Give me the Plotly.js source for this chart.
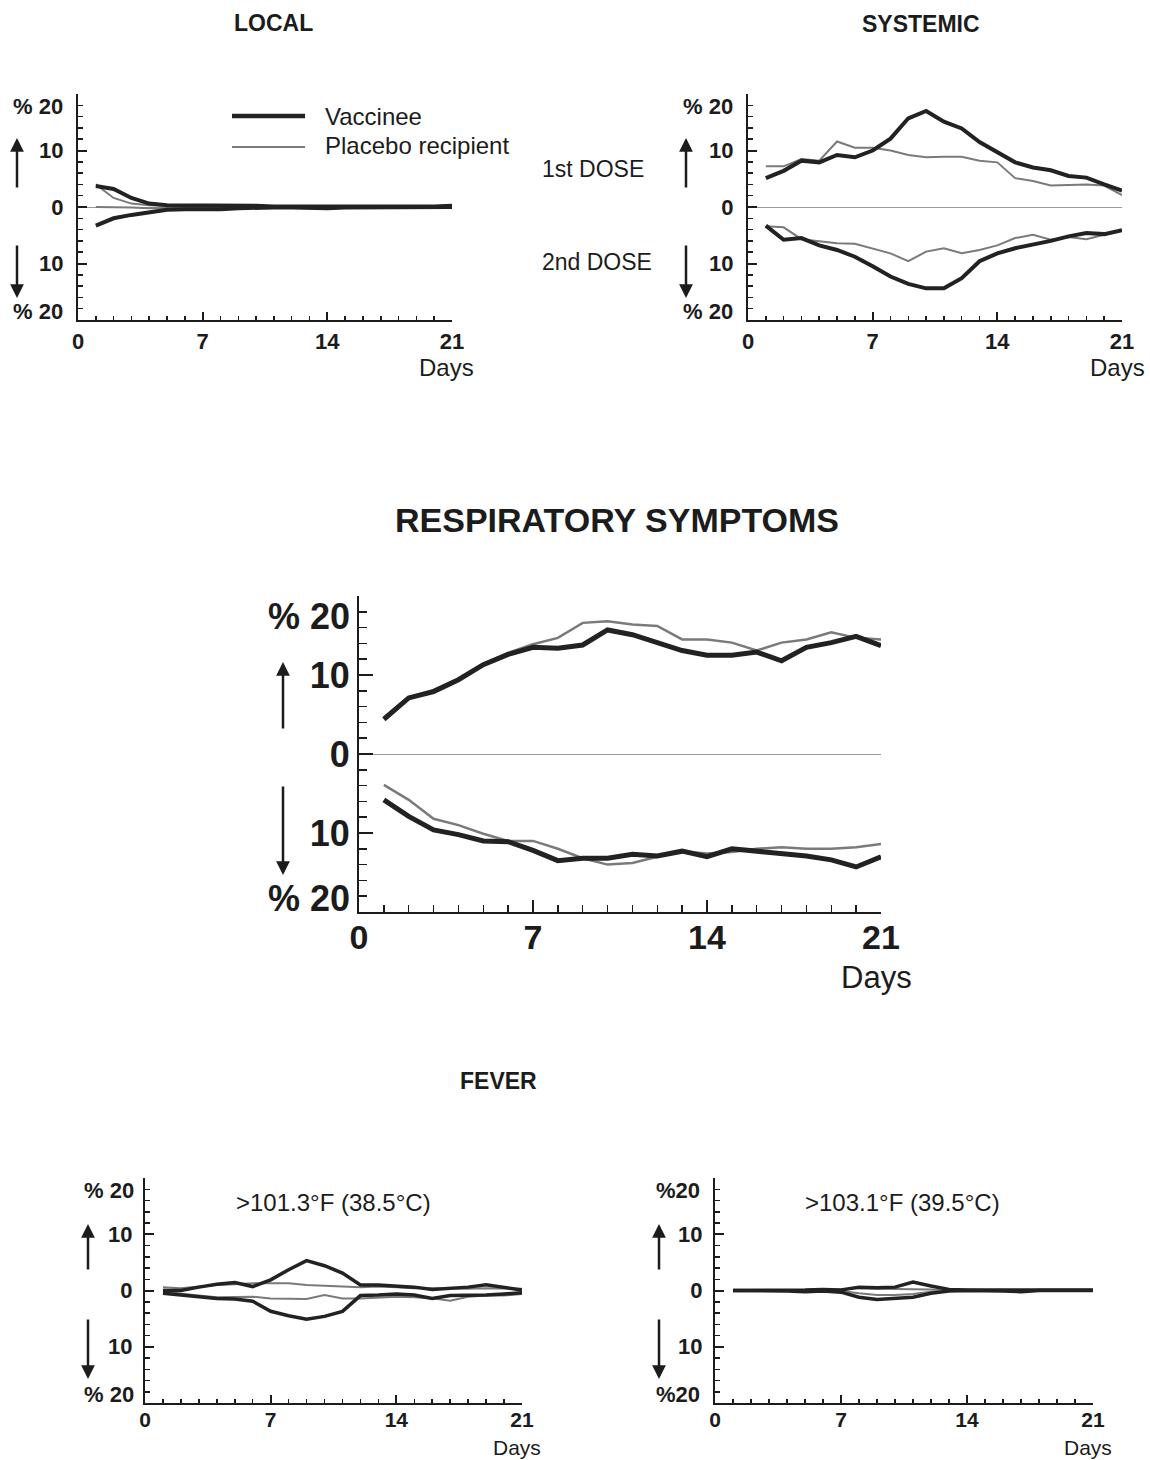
<!DOCTYPE html>
<html>
<head>
<meta charset="utf-8">
<script src="https://cdn.plot.ly/plotly-3.0.1.min.js"></script>
<style>html,body{margin:0;padding:0;background:#fff}#chart{width:1150px;height:1460px}</style>
</head>
<body>
<div id="chart"></div>
<script>
// ---------- DATA ----------
const days = [1,2,3,4,5,6,7,8,9,10,11,12,13,14,15,16,17,18,19,20,21];
const xTickVals = [0,7,14,21];
const xTickText = ['0','7','14','21'];
const yTickVals = [-20,-10,0,10,20];
const yTickText = ['','10','0','10',''];

// LOCAL reactions (% of subjects; positive = 1st dose, negative = 2nd dose)
const localVacUp   = [3.7,3.2,1.6,0.6,0.3,0.3,0.2,0.3,0.3,0.2,0.1,0.1,0,0,0,0,0,0,0,0.1,0.2];
const localPlaUp   = [4.0,1.6,0.6,0.3,0.2,0.2,0.2,0.2,0.2,0.1,0.1,0,0,0,0,0,0,0,0,0.1,0.1];
const localVacDown = [-3.3,-2.0,-1.4,-0.9,-0.5,-0.4,-0.4,-0.4,-0.2,-0.1,-0.1,-0.1,-0.2,-0.2,-0.1,-0.1,-0.1,-0.1,-0.1,-0.1,0];
const localPlaDown = [0,0,-0.1,-0.2,-0.2,-0.2,-0.3,-0.3,-0.2,-0.1,-0.1,-0.1,-0.1,-0.1,-0.1,-0.1,0,0,0,0,0];

// SYSTEMIC reactions
const sysVacUp   = [5.1,6.4,8.2,7.9,9.2,8.8,10.0,12.1,15.7,17.0,15.1,13.9,11.5,9.8,7.9,7.0,6.5,5.5,5.2,4.0,2.9];
const sysPlaUp   = [7.2,7.2,8.5,8.2,11.6,10.5,10.5,10.0,9.2,8.8,8.9,8.9,8.2,7.9,5.1,4.6,3.8,3.9,4.0,3.8,2.1];
const sysVacDown = [-3.3,-5.8,-5.5,-6.8,-7.6,-8.8,-10.5,-12.3,-13.6,-14.4,-14.4,-12.6,-9.6,-8.2,-7.3,-6.7,-6.0,-5.2,-4.6,-4.8,-4.1];
const sysPlaDown = [-3.4,-3.6,-5.7,-6.1,-6.4,-6.5,-7.3,-8.2,-9.6,-7.9,-7.3,-8.2,-7.6,-6.8,-5.5,-4.9,-5.8,-5.3,-5.7,-4.9,-4.1];

// RESPIRATORY symptoms
const respVacUp   = [4.4,7.1,7.9,9.4,11.3,12.6,13.5,13.4,13.8,15.7,15.1,14.1,13.1,12.5,12.5,12.9,11.8,13.5,14.1,14.9,13.7];
const respPlaUp   = [4.6,7.2,8.1,9.5,11.4,12.8,13.9,14.7,16.6,16.8,16.4,16.2,14.5,14.5,14.1,13.1,14.1,14.5,15.4,14.7,14.5];
const respVacDown = [-5.8,-7.9,-9.6,-10.2,-11.0,-11.1,-12.2,-13.5,-13.2,-13.2,-12.7,-12.9,-12.3,-13.0,-12.0,-12.3,-12.6,-12.9,-13.4,-14.3,-13.0];
const respPlaDown = [-3.9,-5.8,-8.2,-9.0,-10.1,-11.0,-11.0,-12.0,-13.2,-14.0,-13.8,-13.0,-12.3,-12.6,-12.4,-12.0,-11.8,-12.0,-12.0,-11.8,-11.4];

// FEVER > 101.3°F (38.5°C)
const fev1VacUp   = [0,0,0.6,1.1,1.4,0.7,1.9,3.7,5.3,4.4,3.1,1.0,1.0,0.8,0.6,0.2,0.4,0.6,1.0,0.6,0.1];
const fev1PlaUp   = [0.6,0.4,0.7,1.0,1.1,1.3,1.3,1.3,1.0,0.8,0.7,0.6,0.7,0.6,0.4,0.4,0.3,0.3,0.4,0.4,0.3];
const fev1VacDown = [-0.5,-0.8,-1.1,-1.4,-1.5,-1.9,-3.7,-4.5,-5.1,-4.6,-3.7,-0.9,-0.8,-0.6,-0.8,-1.4,-0.9,-0.9,-0.8,-0.6,-0.4];
const fev1PlaDown = [-0.2,-0.6,-0.9,-1.2,-1.1,-1.1,-1.4,-1.4,-1.5,-0.8,-1.4,-1.4,-1.2,-1.1,-1.2,-1.4,-1.8,-1.1,-0.9,-0.9,-0.6];

// FEVER > 103.1°F (39.5°C)
const fev2VacUp   = [0,0,0,0,0.1,0.2,0.1,0.6,0.5,0.6,1.5,0.8,0.2,0.1,0.1,0,0,0,0,0,0.1];
const fev2PlaUp   = [0,0,0,0,0.1,0.1,0.2,0.4,0.3,0.3,0.3,0.2,0.1,0,0,0,0,0,0,0,0];
const fev2VacDown = [0,0,0,-0.1,-0.2,-0.1,-0.3,-1.2,-1.6,-1.4,-1.2,-0.5,-0.1,0,0,-0.1,-0.2,0,0,0,0];
const fev2PlaDown = [0,0,0,0,0,0,-0.1,-0.5,-0.8,-0.8,-0.6,-0.2,0,0,0,0,0,0,0,0,0];

// ---------- STYLE / LAYOUT ----------
const W = 1150, H = 1460;
const FONT = 'Liberation Sans, Arial, Helvetica, sans-serif';
const INK = '#1c1c1c';
const VAC_COLOR = '#222222', PLA_COLOR = '#7a7a7a';
const px = v => v / W;
const py = v => 1 - v / H;

// box: [left, right, top(+20), bottom(-20)] in pixels
const panels = [
  {id:'', box:[78,452,94,320], xfs:22, yfs:22, dfs:24, xstand:1, ystand:8, pgap:13, daysY:367, vw:4, pw:2, zero:true, data:[localPlaUp,localPlaDown,localVacUp,localVacDown], pct:'% 20'},
  {id:'2', box:[748,1122,94,320], xfs:22, yfs:22, dfs:24, xstand:1, ystand:8, pgap:13, daysY:367, vw:4, pw:2, zero:true, data:[sysPlaUp,sysPlaDown,sysVacUp,sysVacDown], pct:'% 20'},
  {id:'3', box:[359,881,596,912], xfs:34, yfs:36, dfs:31, xstand:-6, ystand:0, pgap:7, daysY:977, vw:5, pw:2.5, zero:true, data:[respPlaUp,respPlaDown,respVacUp,respVacDown], pct:'% 20'},
  {id:'4', box:[145,522,1178,1403], xfs:21, yfs:22, dfs:21, xstand:-3, ystand:6, pgap:9, daysY:1447, vw:3.5, pw:2, zero:false, data:[fev1PlaUp,fev1PlaDown,fev1VacUp,fev1VacDown], pct:'% 20'},
  {id:'5', box:[715,1093,1178,1403], xfs:21, yfs:22, dfs:21, xstand:-3, ystand:6, pgap:13, daysY:1447, vw:3.5, pw:2, zero:false, data:[fev2PlaUp,fev2PlaDown,fev2VacUp,fev2VacDown], pct:'%20'}
];

const traces = [];
const layout = {
  width: W, height: H,
  margin: {l:0, r:0, t:0, b:0},
  paper_bgcolor: '#fff', plot_bgcolor: 'rgba(0,0,0,0)',
  showlegend: false,
  font: {family: FONT, color: INK},
  annotations: [], shapes: []
};

panels.forEach(p => {
  const [l, r, t, b] = p.box;
  const xa = 'x' + p.id, ya = 'y' + p.id;
  p.data.forEach((arr, i) => {
    const isVac = i >= 2;
    traces.push({
      type: 'scatter', mode: 'lines', x: days, y: arr,
      xaxis: xa, yaxis: ya, hoverinfo: 'skip',
      line: {color: isVac ? VAC_COLOR : PLA_COLOR, width: isVac ? p.vw : p.pw, shape: 'linear'}
    });
  });
  const small = p.xfs < 30;
  layout['xaxis' + p.id] = {
    domain: [px(l), px(r)], anchor: ya, range: [0, 21], fixedrange: true,
    showline: true, linecolor: INK, linewidth: 2, showgrid: false, zeroline: false,
    ticks: 'inside', ticklen: small ? 8 : 12, tickwidth: 2, tickcolor: INK,
    tickvals: xTickVals, ticktext: xTickText,
    tickfont: {family: FONT, size: p.xfs, color: INK, weight: 700},
    ticklabelstandoff: p.xstand,
    minor: {dtick: 1, tick0: 0, ticks: 'inside', ticklen: small ? 4 : 7, tickwidth: 1.5, tickcolor: INK, showgrid: false}
  };
  layout['yaxis' + p.id] = {
    domain: [py(b), py(t)], anchor: xa, range: [-20, 20], fixedrange: true,
    showline: true, linecolor: INK, linewidth: 2, showgrid: false,
    zeroline: p.zero, zerolinecolor: '#9a9a9a', zerolinewidth: 1,
    ticks: 'inside', ticklen: small ? 9 : 14, tickwidth: 2, tickcolor: INK,
    tickvals: yTickVals, ticktext: yTickText,
    tickfont: {family: FONT, size: p.yfs, color: INK, weight: 700},
    ticklabelstandoff: p.ystand,
    minor: {dtick: 2, tick0: 0, ticks: 'inside', ticklen: small ? 5 : 8, tickwidth: 1.5, tickcolor: INK, showgrid: false}
  };
  // "% 20" end labels
  [[20, 'top'], [-20, 'bottom']].forEach(([v, anc]) => {
    layout.annotations.push({
      xref: xa + ' domain', yref: ya, x: 0, y: v, xanchor: 'right', yanchor: anc,
      xshift: -p.pgap, yshift: anc === 'top' ? 2 : -Math.round(p.yfs * 0.25),
      text: p.pct, showarrow: false,
      font: {family: FONT, size: p.yfs, color: INK, weight: 700}
    });
  });
  // "Days" label
  layout.annotations.push({
    xref: xa + ' domain', yref: 'paper', x: 1, y: py(p.daysY), xanchor: 'center', yanchor: 'middle',
    xshift: -5, text: 'Days', showarrow: false,
    font: {family: FONT, size: p.dfs, color: INK}
  });
});

// up/down arrows next to each y axis: [x, upTip, upTail, downTail, downTip]
const arrows = [
  [17, 138, 189, 244, 298],
  [686, 138, 189, 244, 298],
  [283, 662, 730, 785, 875],
  [88, 1224, 1271, 1318, 1379],
  [659, 1224, 1271, 1318, 1379]
];
arrows.forEach(([x, ut, ul, dl, dt]) => {
  layout.annotations.push({xref:'paper', yref:'paper', x:px(x), y:py(ut), ax:0, ay:ul-ut, axref:'pixel', ayref:'pixel',
    text:'', showarrow:true, arrowhead:2, arrowsize:1.1, arrowwidth:2.5, arrowcolor:INK});
  layout.annotations.push({xref:'paper', yref:'paper', x:px(x), y:py(dt), ax:0, ay:dl-dt, axref:'pixel', ayref:'pixel',
    text:'', showarrow:true, arrowhead:2, arrowsize:1.1, arrowwidth:2.5, arrowcolor:INK});
});

// titles and labels
const txt = (text, x, y, size, bold, anchor) => layout.annotations.push({
  xref:'paper', yref:'paper', x:px(x), y:py(y), xanchor: anchor || 'center', yanchor:'middle',
  text, showarrow:false, font:{family:FONT, size, color:INK, weight: bold ? 700 : 400}
});
txt('LOCAL', 273, 23, 23, true);
txt('SYSTEMIC', 921, 24, 23, true);
txt('RESPIRATORY SYMPTOMS', 617, 520, 34, true);
txt('FEVER', 498, 1081, 23, true);
txt('1st DOSE', 593, 169, 23, false);
txt('2nd DOSE', 597, 262, 23, false);
txt('&gt;101.3°F (38.5°C)', 333, 1202, 24, false);
txt('&gt;103.1°F (39.5°C)', 902, 1202, 24, false);

// legend
layout.shapes.push({type:'line', xref:'paper', yref:'paper', x0:px(232), x1:px(305), y0:py(116), y1:py(116), line:{color:VAC_COLOR, width:4.5}});
layout.shapes.push({type:'line', xref:'paper', yref:'paper', x0:px(232), x1:px(305), y0:py(147), y1:py(147), line:{color:PLA_COLOR, width:2}});
txt('Vaccinee', 323, 116, 24, false, 'left');
txt('Placebo recipient', 323, 146, 24, false, 'left');

Plotly.newPlot('chart', traces, layout, {staticPlot: true, displayModeBar: false});
</script>
</body>
</html>
